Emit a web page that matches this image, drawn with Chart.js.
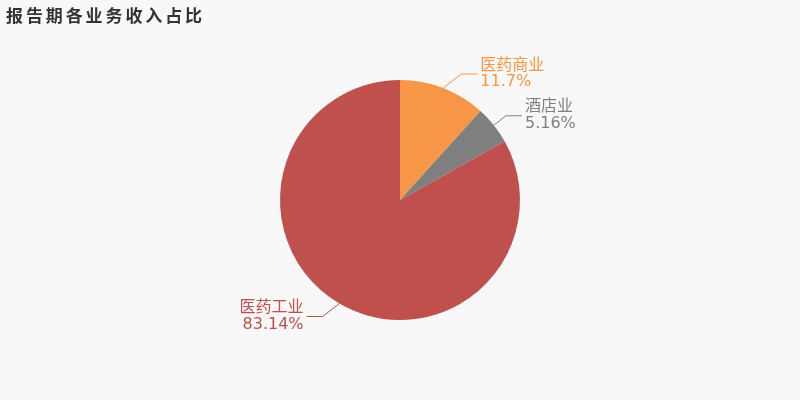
<!DOCTYPE html>
<html>
<head>
<meta charset="utf-8">
<script src="https://cdn.jsdelivr.net/npm/chart.js@4/dist/chart.umd.min.js"></script>
<style>
  html, body { margin: 0; padding: 0; background: #f8f8f8; }
  #wrap { position: relative; width: 800px; height: 400px; }
  #title {
    position: absolute; left: 6px; top: 2px;
    font: bold 17px "Noto Sans CJK SC", sans-serif;
    letter-spacing: 2.9px; color: #333;
  }
</style>
</head>
<body>
<div id="wrap">
  <div id="title">报告期各业务收入占比</div>
  <canvas id="pieChart" width="800" height="400"></canvas>
</div>
<script>
// data
const categories = ["医药商业", "酒店业", "医药工业"];
const shares = [11.7, 5.16, 83.14];
const sliceColors = ["#f79646", "#7f7f7f", "#c0504d"];

// leader lines + two-line labels next to each slice
const leaderLabels = {
  id: "leaderLabels",
  afterDraw(chart) {
    const ctx = chart.ctx;
    const meta = chart.getDatasetMeta(0);
    meta.data.forEach((arc, i) => {
      const mid = (arc.startAngle + arc.endAngle) / 2;
      const r = arc.outerRadius;
      const cos = Math.cos(mid), sin = Math.sin(mid);
      const right = cos >= 0;
      const x0 = arc.x + cos * r, y0 = arc.y + sin * r;
      // elbow: height from the radial, pushed out sideways a bit
      const y1 = arc.y + sin * (r + 15);
      const dx = Math.max(Math.abs(cos * 15), Math.abs(y1 - y0) * 1.3);
      const x1 = x0 + (right ? dx : -dx);
      const x2 = x1 + (right ? 16 : -16);

      ctx.save();
      ctx.strokeStyle = sliceColors[i];
      ctx.lineWidth = 1;
      ctx.beginPath();
      ctx.moveTo(x0, y0);
      ctx.lineTo(x1, y1);
      ctx.lineTo(x2, y1);
      ctx.stroke();

      ctx.fillStyle = sliceColors[i];
      ctx.font = '16px "DejaVu Sans", "Noto Sans CJK SC", sans-serif';
      ctx.textBaseline = "middle";
      ctx.textAlign = right ? "left" : "right";
      const tx = x2 + (right ? 3 : -3);
      ctx.fillText(categories[i], tx, y1 - 8.5);
      ctx.fillText(shares[i] + "%", tx, y1 + 8);
      ctx.restore();
    });
  }
};

new Chart(document.getElementById("pieChart").getContext("2d"), {
  type: "pie",
  data: {
    labels: categories,
    datasets: [{
      data: shares,
      backgroundColor: sliceColors,
      borderWidth: 0
    }]
  },
  options: {
    responsive: false,
    animation: false,
    layout: { padding: { top: 80, bottom: 80 } },
    plugins: {
      legend: { display: false },
      tooltip: { enabled: false }
    }
  },
  plugins: [leaderLabels]
});
</script>
</body>
</html>
